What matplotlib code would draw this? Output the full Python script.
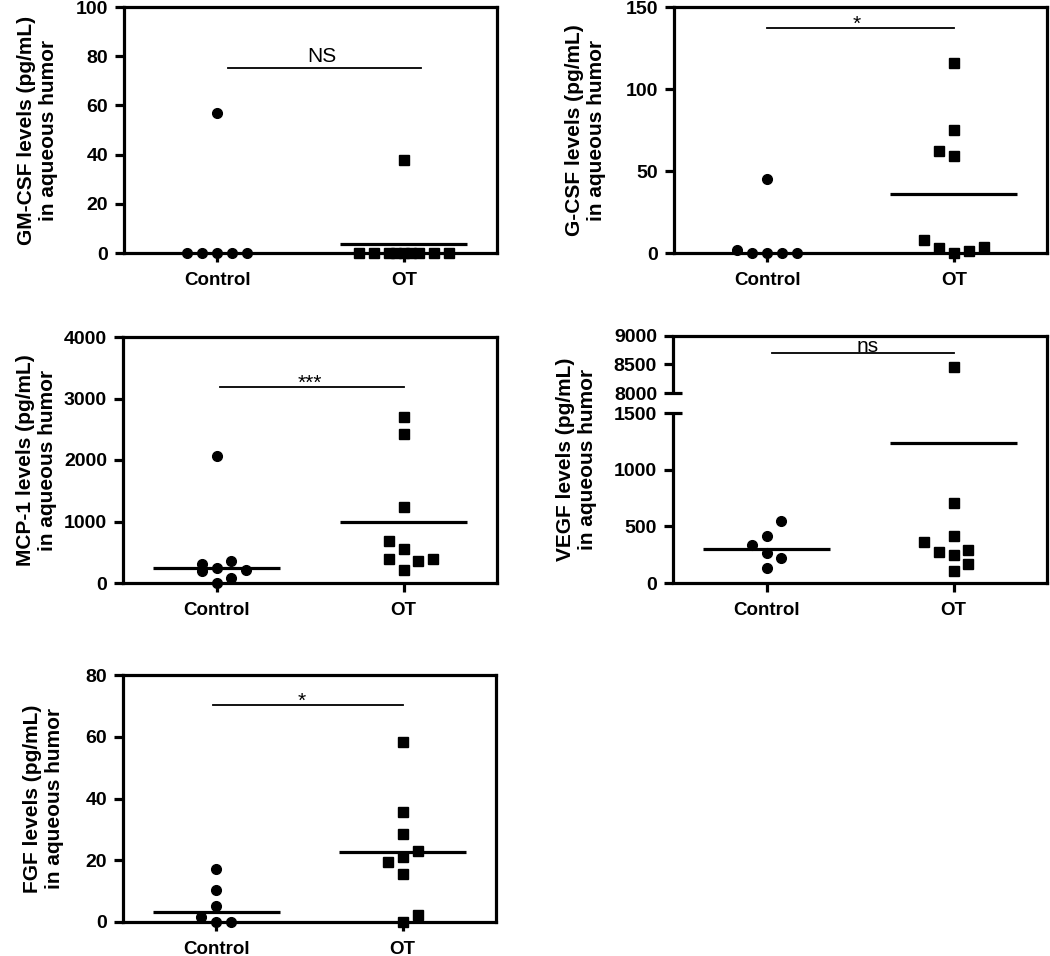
import matplotlib
matplotlib.use('Agg')
import matplotlib.pyplot as plt
import numpy as np

plt.rcParams['font.family'] = ['Liberation Sans', 'DejaVu Sans']
plt.rcParams['font.weight'] = 'bold'

groups = ['Control', 'OT']

# GM-CSF (pg/mL)
gm_control = [57, 0, 0, 0, 0, 0]
gm_control_dx = [0, -0.16, -0.08, 0, 0.08, 0.16]
gm_ot = [38, 0, 0, 0, 0, 0, 0, 0, 0, 0]
gm_ot_dx = [0, -0.24, -0.16, -0.08, -0.04, 0, 0.04, 0.08, 0.16, 0.24]
gm_means = [None, 3.8]

# G-CSF (pg/mL)
g_control = [45, 1.8, 0, 0, 0, 0]
g_control_dx = [0, -0.16, -0.08, 0, 0.08, 0.16]
g_ot = [116, 75, 62, 59, 8, 3, 0, 1, 3.5]
g_ot_dx = [0, 0, -0.08, 0, -0.16, -0.08, 0, 0.08, 0.16]
g_means = [None, 36]

# MCP-1 (pg/mL)
mcp_control = [2065, 304, 200, 239, 363, 211, 76, 0]
mcp_control_dx = [0, -0.08, -0.08, 0, 0.08, 0.16, 0.08, 0]
mcp_ot = [2705, 2423, 1231, 678, 558, 385, 363, 385, 211]
mcp_ot_dx = [0, 0, 0, -0.08, 0, -0.08, 0.08, 0.16, 0]
mcp_means = [239, 997]

# VEGF (pg/mL)
vegf_control = [547, 414, 335, 268, 224, 129]
vegf_control_dx = [0.08, 0, -0.08, 0, 0.08, 0]
vegf_ot = [8451, 708, 359, 414, 276, 291, 244, 165, 109]
vegf_ot_dx = [0, 0, -0.16, 0, -0.08, 0.08, 0, 0.08, 0]
vegf_means = [303, 1232]

# FGF (pg/mL)
fgf_control = [17.3, 10.5, 5.1, 1.6, 0, 0]
fgf_control_dx = [0, 0, 0, -0.08, 0, 0.08]
fgf_ot = [58.4, 35.5, 28.4, 22.9, 21.1, 19.5, 15.4, 2.4, 0]
fgf_ot_dx = [0, 0, 0, 0.08, 0, -0.08, 0, 0.08, 0]
fgf_means = [3.2, 22.7]

W, H = 1050, 956
fig = plt.figure(figsize=(W / 100, H / 100), dpi=100)


def add_panel(x0, y0, x1, y1):
    # pixel box -> figure fraction
    return fig.add_axes([x0 / W, 1 - y1 / H, (x1 - x0) / W, (y1 - y0) / H])


def setup(ax, ylabel, lab_x):
    for s in ax.spines.values():
        s.set_linewidth(2.3)
    ax.set_xlim(0.5, 2.5)
    ax.set_xticks([1, 2], groups)
    ax.tick_params(axis='both', direction='out', length=6.5, width=2.3)
    ax.tick_params(axis='x', pad=7, labelsize=13.5)
    ax.tick_params(axis='y', pad=5, labelsize=14)
    ax.set_ylabel(ylabel, fontsize=15, fontweight='bold', va='center', ha='center',
                  linespacing=1.2)
    ax.yaxis.set_label_coords(lab_x, 0.5)


def draw_points(ax, ctrl, ctrl_dx, ot, ot_dx, means):
    ax.plot(1 + np.array(ctrl_dx), ctrl, 'o', ms=7, color='black', clip_on=False, zorder=4)
    ax.plot(2 + np.array(ot_dx), ot, 's', ms=6.8, color='black', clip_on=False, zorder=4)
    for x, m in zip([1, 2], means):
        if m is None:
            continue
        ax.plot([x - 0.34, x + 0.34], [m, m], color='black', lw=2.3,
                solid_capstyle='butt', zorder=3, clip_on=False)


def bracket(ax, x1, x2, y, text, tx, fs, off):
    ax.plot([x1, x2], [y, y], color='black', lw=1.3, clip_on=False)
    ax.annotate(text, xy=(tx, y), xytext=(0, off), textcoords='offset points',
                ha='center', va='baseline', fontsize=fs, fontweight='normal')


# GM-CSF
ax1 = add_panel(124, 7, 497, 253)
setup(ax1, 'GM-CSF levels (pg/mL)\nin aqueous humor', -0.233)
ax1.set_ylim(0, 100)
ax1.set_yticks(np.arange(0, 101, 20))
draw_points(ax1, gm_control, gm_control_dx, gm_ot, gm_ot_dx, gm_means)
bracket(ax1, 1.06, 2.09, 75.2, 'NS', 1.56, 15, 4)

# G-CSF
ax2 = add_panel(674, 7, 1047, 253)
setup(ax2, 'G-CSF levels (pg/mL)\nin aqueous humor', -0.236)
ax2.set_ylim(0, 150)
ax2.set_yticks([0, 50, 100, 150])
draw_points(ax2, g_control, g_control_dx, g_ot, g_ot_dx, g_means)
bracket(ax2, 1.0, 2.0, 137, '*', 1.48, 15, -1)

# MCP-1
ax3 = add_panel(123, 337, 497, 583)
setup(ax3, 'MCP-1 levels (pg/mL)\nin aqueous humor', -0.23)
ax3.set_ylim(0, 4000)
ax3.set_yticks(np.arange(0, 4001, 1000))
draw_points(ax3, mcp_control, mcp_control_dx, mcp_ot, mcp_ot_dx, mcp_means)
bracket(ax3, 1.02, 2.0, 3182, '***', 1.5, 15, -1)


# VEGF, broken y axis (0-1500 and 8000-9000)
def vegf_fwd(y):
    y = np.asarray(y, dtype=float)
    return np.where(y <= 1500, y / 1500 * 170,
                    np.where(y < 8000, 170 + (y - 1500) / 6500 * 20,
                             190 + (y - 8000) / 1000 * 57))


def vegf_inv(v):
    v = np.asarray(v, dtype=float)
    return np.where(v <= 170, v / 170 * 1500,
                    np.where(v < 190, 1500 + (v - 170) / 20 * 6500,
                             8000 + (v - 190) / 57 * 1000))


ax4 = add_panel(673, 336, 1047, 583)
ax4.set_yscale('function', functions=(vegf_fwd, vegf_inv))
setup(ax4, 'VEGF levels (pg/mL)\nin aqueous humor', -0.257)
ax4.set_ylim(0, 9000)
ax4.set_yticks([0, 500, 1000, 8500, 9000])
ax4.set_yticks([1500, 8000], ['1500', '8000'], minor=True)
ax4.tick_params(axis='y', which='minor', direction='inout', length=13, width=2.3,
                labelsize=14, pad=5)
ax4.spines['left'].set_visible(False)
ytr = ax4.get_yaxis_transform()
for lo, hi in [(0, 1500), (8000, 9000)]:
    ax4.plot([0, 0], [lo, hi], color='black', lw=2.3, transform=ytr,
             clip_on=False, solid_capstyle='butt')
draw_points(ax4, vegf_control, vegf_control_dx, vegf_ot, vegf_ot_dx, vegf_means)
bracket(ax4, 1.03, 2.0, 8707, 'ns', 1.54, 15, 0.5)

# FGF
ax5 = add_panel(123, 675, 496, 922)
setup(ax5, 'FGF levels (pg/mL)\nin aqueous humor', -0.212)
ax5.set_ylim(0, 80)
ax5.set_yticks(np.arange(0, 81, 20))
draw_points(ax5, fgf_control, fgf_control_dx, fgf_ot, fgf_ot_dx, fgf_means)
bracket(ax5, 0.98, 2.0, 70.3, '*', 1.46, 15, -1)

plt.savefig('out.png', dpi=100)
